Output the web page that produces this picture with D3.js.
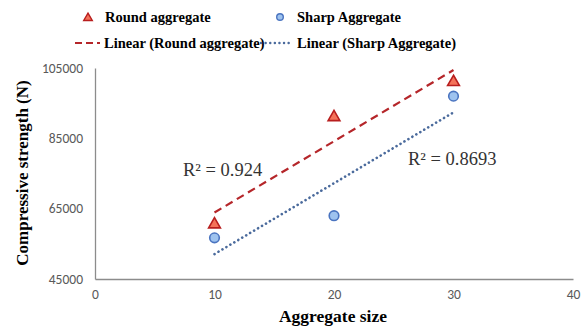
<!DOCTYPE html>
<html>
<head>
<meta charset="utf-8">
<script src="https://cdn.jsdelivr.net/npm/d3@7"></script>
<style>
  body { margin: 0; background: #fff; }
</style>
</head>
<body>
<svg id="chart" width="585" height="328"></svg>
<script>
const sizes = [10, 20, 30];
const roundValues = [60500, 91000, 101000];
const sharpValues = [56700, 63000, 97000];
const xTicks = [0, 10, 20, 30, 40];
const yTicks = [45000, 65000, 85000, 105000];
const roundR2 = "R\u00b2 = 0.924";
const sharpR2 = "R\u00b2 = 0.8693";

(function () {
  const svg = d3.select("#chart");

  const x = d3.scaleLinear().domain([0, 40]).range([95, 573]);
  const y = d3.scaleLinear().domain([45000, 105000]).range([279, 68]);

  const serif = "'Liberation Serif', 'Times New Roman', serif";
  const sans = "Carlito, 'Liberation Sans', Arial, sans-serif";

  // axes (Excel style: no ticks, grey lines)
  const xAxis = svg.append("g")
    .attr("transform", `translate(0, ${y(45000)})`)
    .call(d3.axisBottom(x).tickValues(xTicks).tickSize(0).tickPadding(10));
  const yAxis = svg.append("g")
    .attr("transform", `translate(${x(0)}, 0)`)
    .call(d3.axisLeft(y).tickValues(yTicks).tickSize(0).tickPadding(12).tickFormat(d3.format("d")));

  [xAxis, yAxis].forEach((g) => {
    g.select(".domain").attr("stroke", "#8c8c8c").attr("stroke-width", 1.3);
    g.selectAll("text")
      .style("font-family", sans)
      .style("font-size", "13.5px")
      .attr("fill", "#595959");
  });

  // linear trend lines
  function fit(xs, ys) {
    const mx = d3.mean(xs), my = d3.mean(ys);
    const b = d3.sum(xs, (v, i) => (v - mx) * (ys[i] - my)) / d3.sum(xs, (v) => (v - mx) ** 2);
    return (v) => my + b * (v - mx);
  }
  const line = d3.line().x((d) => x(d[0])).y((d) => y(d[1]));
  const xr = d3.extent(sizes);

  const fr = fit(sizes, roundValues);
  svg.append("path")
    .attr("d", line(xr.map((v) => [v, fr(v)])))
    .attr("fill", "none")
    .attr("stroke", "#b5262a")
    .attr("stroke-width", 2.2)
    .attr("stroke-dasharray", "8,5");

  const fs = fit(sizes, sharpValues);
  svg.append("path")
    .attr("d", line(xr.map((v) => [v, fs(v)])))
    .attr("fill", "none")
    .attr("stroke", "#4a6a9c")
    .attr("stroke-width", 2.6)
    .attr("stroke-linecap", "round")
    .attr("stroke-dasharray", "0.1,4.5");

  // markers
  const tri = d3.symbol().type(d3.symbolTriangle).size(60);
  svg.selectAll(null)
    .data(sizes.map((v, i) => [v, roundValues[i]]))
    .enter()
    .append("path")
    .attr("d", tri)
    .attr("transform", (d) => `translate(${x(d[0])}, ${y(d[1])})`)
    .attr("fill", "#f4735a")
    .attr("stroke", "#b81e1e")
    .attr("stroke-width", 1.6);

  svg.selectAll(null)
    .data(sizes.map((v, i) => [v, sharpValues[i]]))
    .enter()
    .append("circle")
    .attr("cx", (d) => x(d[0]))
    .attr("cy", (d) => y(d[1]))
    .attr("r", 4.8)
    .attr("fill", "#9ec3ef")
    .attr("stroke", "#4a74c0")
    .attr("stroke-width", 1.6);

  // R² labels
  svg.append("text").text(roundR2)
    .attr("x", 183).attr("y", 176)
    .style("font-family", serif).style("font-size", "18.5px").attr("fill", "#333");
  svg.append("text").text(sharpR2)
    .attr("x", 408).attr("y", 165)
    .style("font-family", serif).style("font-size", "18.5px").attr("fill", "#333");

  // axis titles
  svg.append("text").text("Aggregate size")
    .attr("x", 333).attr("y", 322)
    .attr("text-anchor", "middle")
    .style("font-family", serif).style("font-size", "17.5px").style("font-weight", "bold");
  svg.append("text").text("Compressive strength (N)")
    .attr("transform", "translate(28, 173) rotate(-90)")
    .attr("text-anchor", "middle")
    .style("font-family", serif).style("font-size", "17px").style("font-weight", "bold");

  // legend
  const lg = svg.append("g").style("font-family", serif).style("font-size", "14.5px").style("font-weight", "bold");
  lg.append("path").attr("d", d3.symbol().type(d3.symbolTriangle).size(32))
    .attr("transform", "translate(88, 18)")
    .attr("fill", "#f4735a").attr("stroke", "#b81e1e").attr("stroke-width", 1.4);
  lg.append("text").text("Round aggregate").attr("x", 105).attr("y", 22);
  lg.append("circle").attr("cx", 280).attr("cy", 17).attr("r", 3.3)
    .attr("fill", "#9ec3ef").attr("stroke", "#4a74c0").attr("stroke-width", 1.4);
  lg.append("text").text("Sharp Aggregate").attr("x", 297).attr("y", 22);

  lg.append("line").attr("x1", 75).attr("x2", 100).attr("y1", 43).attr("y2", 43)
    .attr("stroke", "#b5262a").attr("stroke-width", 2.2).attr("stroke-dasharray", "7,4");
  lg.append("text").text("Linear (Round aggregate)").attr("x", 104).attr("y", 48);
  lg.append("line").attr("x1", 261).attr("x2", 293).attr("y1", 43).attr("y2", 43)
    .attr("stroke", "#4a6a9c").attr("stroke-width", 2.4).attr("stroke-linecap", "round")
    .attr("stroke-dasharray", "0.1,4.5");
  lg.append("text").text("Linear (Sharp Aggregate)").attr("x", 297).attr("y", 48);
})();
</script>
</body>
</html>
